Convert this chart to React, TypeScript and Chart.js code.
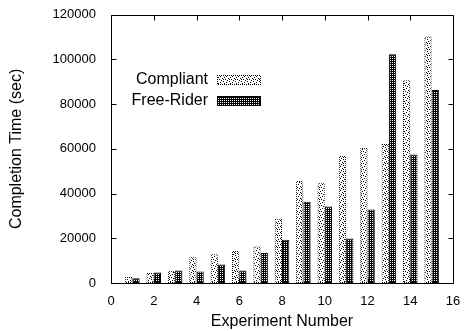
import React, { useEffect, useRef } from "react";
import { Chart, registerables } from "chart.js";

Chart.register(...registerables);

const experiments = [1, 2, 3, 4, 5, 6, 7, 8, 9, 10, 11, 12, 13, 14, 15];
const compliant = [2700, 4500, 5500, 11500, 12900, 14300, 16300, 28800, 45600, 44900, 56800, 60400, 62200, 90700, 110300];
const freeRider = [2100, 4700, 5600, 5200, 8300, 5600, 13400, 19300, 36400, 34200, 19900, 32900, 102300, 57500, 86400];
const seriesNames = ["Compliant", "Free-Rider"];
const xTicks = [0, 2, 4, 6, 8, 10, 12, 14, 16];
const yTicks = [0, 20000, 40000, 60000, 80000, 100000, 120000];

const FONT = "'Liberation Sans', Arial, Helvetica, sans-serif";

function makePattern(size: number, bg: string | null, fg: string, pts: number[][]): CanvasPattern | string {
  const c = document.createElement("canvas");
  c.width = size;
  c.height = size;
  const g = c.getContext("2d")!;
  if (bg) {
    g.fillStyle = bg;
    g.fillRect(0, 0, size, size);
  }
  g.fillStyle = fg;
  pts.forEach(([x, y]) => g.fillRect(x, y, 1, 1));
  const p = g.createPattern(c, "repeat");
  return p || fg;
}

export default function App() {
  const ref = useRef<HTMLCanvasElement>(null);

  useEffect(() => {
    document.body.style.margin = "0";
    const lightFill = makePattern(6, "#ffffff", "#000000", [
      [0, 0], [3, 1], [1, 3], [4, 4], [2, 5], [5, 2], [1, 1],
    ]);
    const lightBorder = makePattern(2, "#ffffff", "#000000", [[0, 0], [1, 1]]);
    const darkFill = makePattern(4, "#000000", "#ffffff", [[0, 0], [2, 2], [2, 0], [0, 2]]);

    const frame = {
      id: "frame",
      afterDraw(chart: any) {
        const { ctx, chartArea: a, scales } = chart;
        ctx.save();
        ctx.strokeStyle = "#000";
        ctx.lineWidth = 1;
        const L = Math.round(a.left) + 0.5;
        const R = Math.round(a.right) + 0.5;
        const T = Math.round(a.top) + 0.5;
        const B = Math.round(a.bottom) + 0.5;
        ctx.beginPath();
        ctx.rect(L, T, R - L, B - T);
        const tl = 5;
        xTicks.forEach((v) => {
          const x = Math.round(scales.x.getPixelForValue(v)) + 0.5;
          ctx.moveTo(x, B);
          ctx.lineTo(x, B - tl);
          ctx.moveTo(x, T);
          ctx.lineTo(x, T + tl);
        });
        yTicks.forEach((v) => {
          const y = Math.round(scales.y.getPixelForValue(v)) + 0.5;
          ctx.moveTo(L, y);
          ctx.lineTo(L + tl, y);
          ctx.moveTo(R, y);
          ctx.lineTo(R - tl, y);
        });
        ctx.stroke();

        // legend
        ctx.font = `16px ${FONT}`;
        ctx.textAlign = "right";
        ctx.textBaseline = "middle";
        const ds = chart.data.datasets;
        const textRight = 208;
        const boxL = 217;
        const boxW = 44;
        const boxH = 10;
        const rows = [80, 101];
        ds.forEach((d: any, i: number) => {
          const cy = rows[i];
          ctx.fillStyle = "#000";
          ctx.fillText(d.label, textRight, cy);
          const by = Math.round(cy - boxH / 2);
          ctx.fillStyle = d.borderColor;
          ctx.fillRect(boxL, by, boxW, boxH);
          ctx.fillStyle = d.backgroundColor;
          ctx.fillRect(boxL + 1, by + 1, boxW - 2, boxH - 2);
        });
        ctx.restore();
      },
    };

    const chart = new Chart(ref.current!, {
      type: "bar",
      data: {
        datasets: [
          {
            label: seriesNames[0],
            data: experiments.map((x, i) => ({ x, y: compliant[i] })),
            backgroundColor: lightFill as any,
            borderColor: lightBorder as any,
            borderWidth: 1,
            borderSkipped: false,
          },
          {
            label: seriesNames[1],
            data: experiments.map((x, i) => ({ x, y: freeRider[i] })),
            backgroundColor: darkFill as any,
            borderColor: "#000000",
            borderWidth: 1,
            borderSkipped: false,
          },
        ],
      },
      options: {
        animation: false,
        responsive: false,
        maintainAspectRatio: false,
        layout: { padding: { top: 14, right: 11, left: 0, bottom: 0 } },
        datasets: { bar: { categoryPercentage: 0.68, barPercentage: 1.0 } } as any,
        plugins: {
          legend: { display: false },
          tooltip: { enabled: false },
        },
        scales: {
          x: {
            type: "linear",
            min: 0,
            max: 16,
            offset: false,
            grid: { display: false },
            border: { display: false },
            afterBuildTicks: (s: any) => {
              s.ticks = xTicks.map((v) => ({ value: v }));
            },
            afterFit: (s: any) => {
              s.height = 48;
            },
            ticks: {
              color: "#000",
              font: { family: FONT, size: 13 },
              padding: 3,
              maxRotation: 0,
              autoSkip: false,
              callback: (v: any) => String(v),
            },
            title: {
              display: true,
              text: "Experiment Number",
              color: "#000",
              font: { family: FONT, size: 16 },
              padding: { top: 0, bottom: 0 },
            },
          },
          y: {
            type: "linear",
            min: 0,
            max: 120000,
            grid: { display: false },
            border: { display: false },
            afterBuildTicks: (s: any) => {
              s.ticks = yTicks.map((v) => ({ value: v }));
            },
            afterFit: (s: any) => {
              s.width = 111;
            },
            ticks: {
              color: "#000",
              font: { family: FONT, size: 13 },
              padding: 7,
              callback: (v: any) => String(v),
            },
            title: {
              display: true,
              text: "Completion Time (sec)",
              color: "#000",
              font: { family: FONT, size: 16 },
              padding: { top: 7, bottom: 0 },
            },
          },
        },
      },
      plugins: [frame],
    });
    return () => chart.destroy();
  }, []);

  return (
    <div style={{ position: "fixed", left: 0, top: 0, width: 464, height: 331 }}>
      <canvas ref={ref} width={464} height={331} style={{ display: "block" }} />
    </div>
  );
}
